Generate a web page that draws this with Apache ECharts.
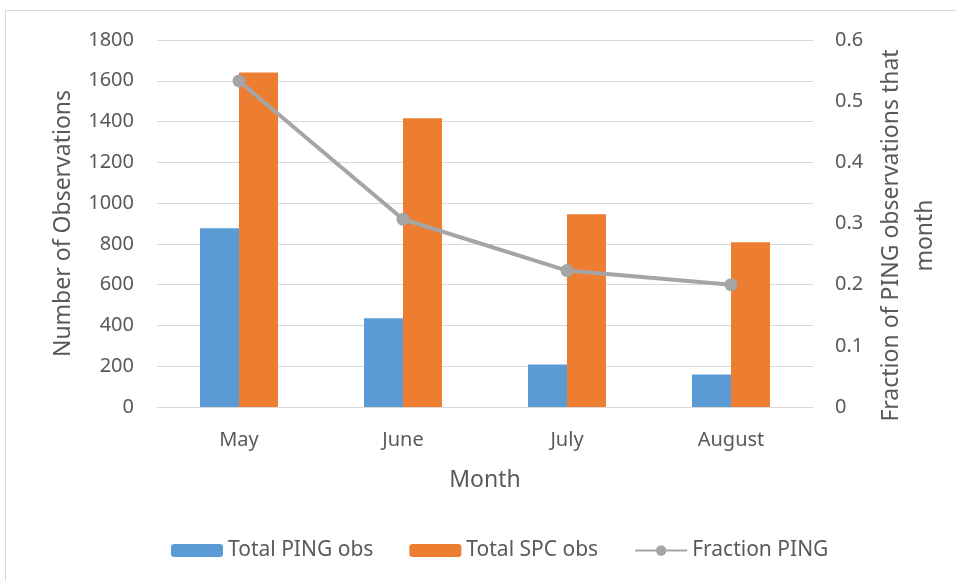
<!DOCTYPE html>
<html>
<head>
<meta charset="utf-8">
<script src="https://cdn.jsdelivr.net/npm/echarts@6/dist/echarts.min.js"></script>
<style>
  html, body { margin: 0; padding: 0; background: #fff; }
  #chart { width: 956px; height: 581px; }
</style>
</head>
<body>
<div id="chart"></div>
<script>
// data
const months = ['May', 'June', 'July', 'August']
const pingObs = [877, 435, 209, 160]
const spcObs = [1641, 1416, 945, 808]
const fractionPing = [0.533, 0.307, 0.223, 0.200]

const textColor = '#595959'
const font = 'Noto Sans'

const chart = echarts.init(document.getElementById('chart'))

let option = {
  backgroundColor: '#fff',
  textStyle: { fontFamily: font, color: textColor },
  graphic: [
    {
      type: 'rect',
      shape: { x: 5.5, y: 10.5, width: 960, height: 580 },
      style: { fill: 'none', stroke: '#d9d9d9', lineWidth: 1 },
      silent: true
    }
  ],
  legend: {
    top: 535,
    left: 166,
    itemWidth: 52,
    itemHeight: 13,
    itemGap: 36,
    textStyle: { fontFamily: font, fontSize: 21, color: textColor },
    data: ['Total PING obs', 'Total SPC obs', 'Fraction PING']
  },
  grid: {
    left: 157,
    right: 143,
    top: 40,
    bottom: 174
  },
  xAxis: {
    type: 'category',
    data: months,
    name: 'Month',
    nameLocation: 'middle',
    nameGap: 62,
    nameTextStyle: { fontSize: 23, color: textColor },
    axisLine: { lineStyle: { color: '#d9d9d9' } },
    axisTick: { show: false },
    axisLabel: { fontSize: 20, color: textColor, margin: 23 }
  },
  yAxis: [
    {
      type: 'value',
      min: 0,
      max: 1800,
      interval: 200,
      name: 'Number of Observations',
      nameLocation: 'middle',
      nameGap: 82,
      nameTextStyle: { fontSize: 23, color: textColor },
      axisLine: { show: false },
      axisTick: { show: false },
      axisLabel: { fontSize: 20, color: textColor, margin: 23, formatter: v => String(v) },
      splitLine: { lineStyle: { color: '#d9d9d9' } }
    },
    {
      type: 'value',
      min: 0,
      max: 0.6,
      interval: 0.1,
      name: 'Fraction of PING observations that\nmonth',
      nameLocation: 'middle',
      nameGap: 57,
      nameRotate: 90,
      nameTextStyle: { fontSize: 23, color: textColor, lineHeight: 34, padding: [0, 24, 0, 0] },
      axisLine: { show: false },
      axisTick: { show: false },
      axisLabel: { fontSize: 20, color: textColor, margin: 22 },
      splitLine: { show: false }
    }
  ],
  series: [
    {
      name: 'Total PING obs',
      type: 'bar',
      data: pingObs,
      barWidth: 39,
      barGap: '0%',
      itemStyle: { color: '#5b9bd5' }
    },
    {
      name: 'Total SPC obs',
      type: 'bar',
      data: spcObs,
      barWidth: 39,
      barGap: '0%',
      itemStyle: { color: '#ed7d31' }
    },
    {
      name: 'Fraction PING',
      type: 'line',
      yAxisIndex: 1,
      data: fractionPing,
      symbol: 'circle',
      symbolSize: 13,
      lineStyle: { color: '#a5a5a5', width: 4 },
      itemStyle: { color: '#a5a5a5' }
    }
  ]
}
chart.setOption(option)
</script>
</body>
</html>
